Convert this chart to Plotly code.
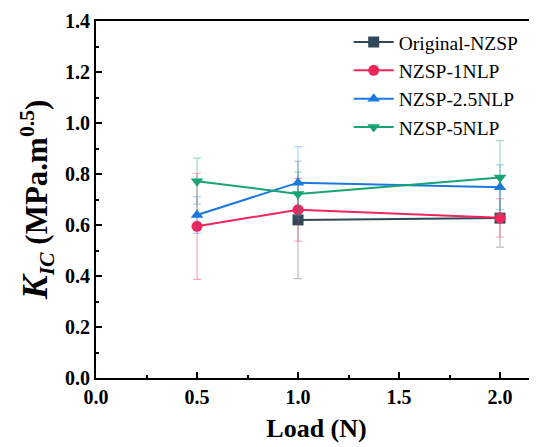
import plotly.graph_objects as go

loads_all = [0.5, 1.0, 2.0]
loads_orig = [1.0, 2.0]

orig_y = [0.620, 0.627]
orig_err = [0.230, 0.114]
nlp1_y = [0.595, 0.660, 0.628]
nlp1_err = [0.208, 0.123, 0.075]
nlp25_y = [0.639, 0.766, 0.748]
nlp25_err = [0.072, 0.141, 0.088]
nlp5_y = [0.772, 0.722, 0.786]
nlp5_err = [0.090, 0.085, 0.145]

series = [
    ("Original-NZSP", loads_orig, orig_y, orig_err, "#2f4858", "rgba(47,72,88,0.35)", "square"),
    ("NZSP-1NLP", loads_all, nlp1_y, nlp1_err, "#f2245c", "rgba(242,36,92,0.4)", "circle"),
    ("NZSP-2.5NLP", loads_all, nlp25_y, nlp25_err, "#1a78e0", "rgba(26,120,224,0.35)", "triangle-up"),
    ("NZSP-5NLP", loads_all, nlp5_y, nlp5_err, "#17a374", "rgba(23,163,116,0.4)", "triangle-down"),
]

fig = go.Figure()
for name, xs, ys, es, col, ecol, sym in series:
    fig.add_trace(go.Scatter(
        x=xs, y=ys, name=name, mode="lines+markers",
        line=dict(color=col, width=2),
        marker=dict(symbol=sym, size=11, color=col),
        error_y=dict(type="data", array=es, visible=True, color=ecol, thickness=1.2, width=4),
    ))

serif = "Liberation Serif"
fig.update_layout(
    width=529, height=439,
    margin=dict(l=88, r=0, t=13, b=69, autoexpand=False),
    plot_bgcolor="white", paper_bgcolor="white",
    font=dict(family=serif, color="black"),
    showlegend=True,
    legend=dict(x=0.573, y=0.995, xanchor="left", yanchor="top",
                font=dict(family=serif, size=19.5, color="black"),
                bgcolor="rgba(0,0,0,0)", tracegroupgap=0, itemwidth=40),
    xaxis=dict(
        range=[0, 2.183], tickvals=[0, 0.5, 1.0, 1.5, 2.0], tickformat=".1f",
        ticks="inside", ticklen=6, tickwidth=1.5, tickcolor="black",
        minor=dict(tickvals=[0.25, 0.75, 1.25, 1.75], ticks="inside", ticklen=3, tickwidth=1.5, tickcolor="black"),
        showline=True, linecolor="black", linewidth=2, mirror=True,
        showgrid=False, zeroline=False, automargin=False,
        tickfont=dict(family=serif, size=20, color="black", weight="bold"),
        title=dict(text="<b>Load (N)</b>", font=dict(family=serif, size=26, color="black"), standoff=12),
    ),
    yaxis=dict(
        range=[0, 1.4], tickvals=[0, 0.2, 0.4, 0.6, 0.8, 1.0, 1.2, 1.4], tickformat=".1f",
        ticks="inside", ticklen=6, tickwidth=1.5, tickcolor="black",
        minor=dict(tickvals=[0.1, 0.3, 0.5, 0.7, 0.9, 1.1, 1.3], ticks="inside", ticklen=3, tickwidth=1.5, tickcolor="black"),
        showline=True, linecolor="black", linewidth=2, mirror=False,
        showgrid=False, zeroline=False, automargin=False,
        tickfont=dict(family=serif, size=20, color="black", weight="bold"),
        title=dict(text="<b><span style='font-size:36px'><i>K</i></span><sub><i>IC</i></sub> (MPa.m<sup>0.5</sup>)</b>",
                   font=dict(family=serif, size=31, color="black"), standoff=8),
    ),
)

fig.write_html("out.html")
